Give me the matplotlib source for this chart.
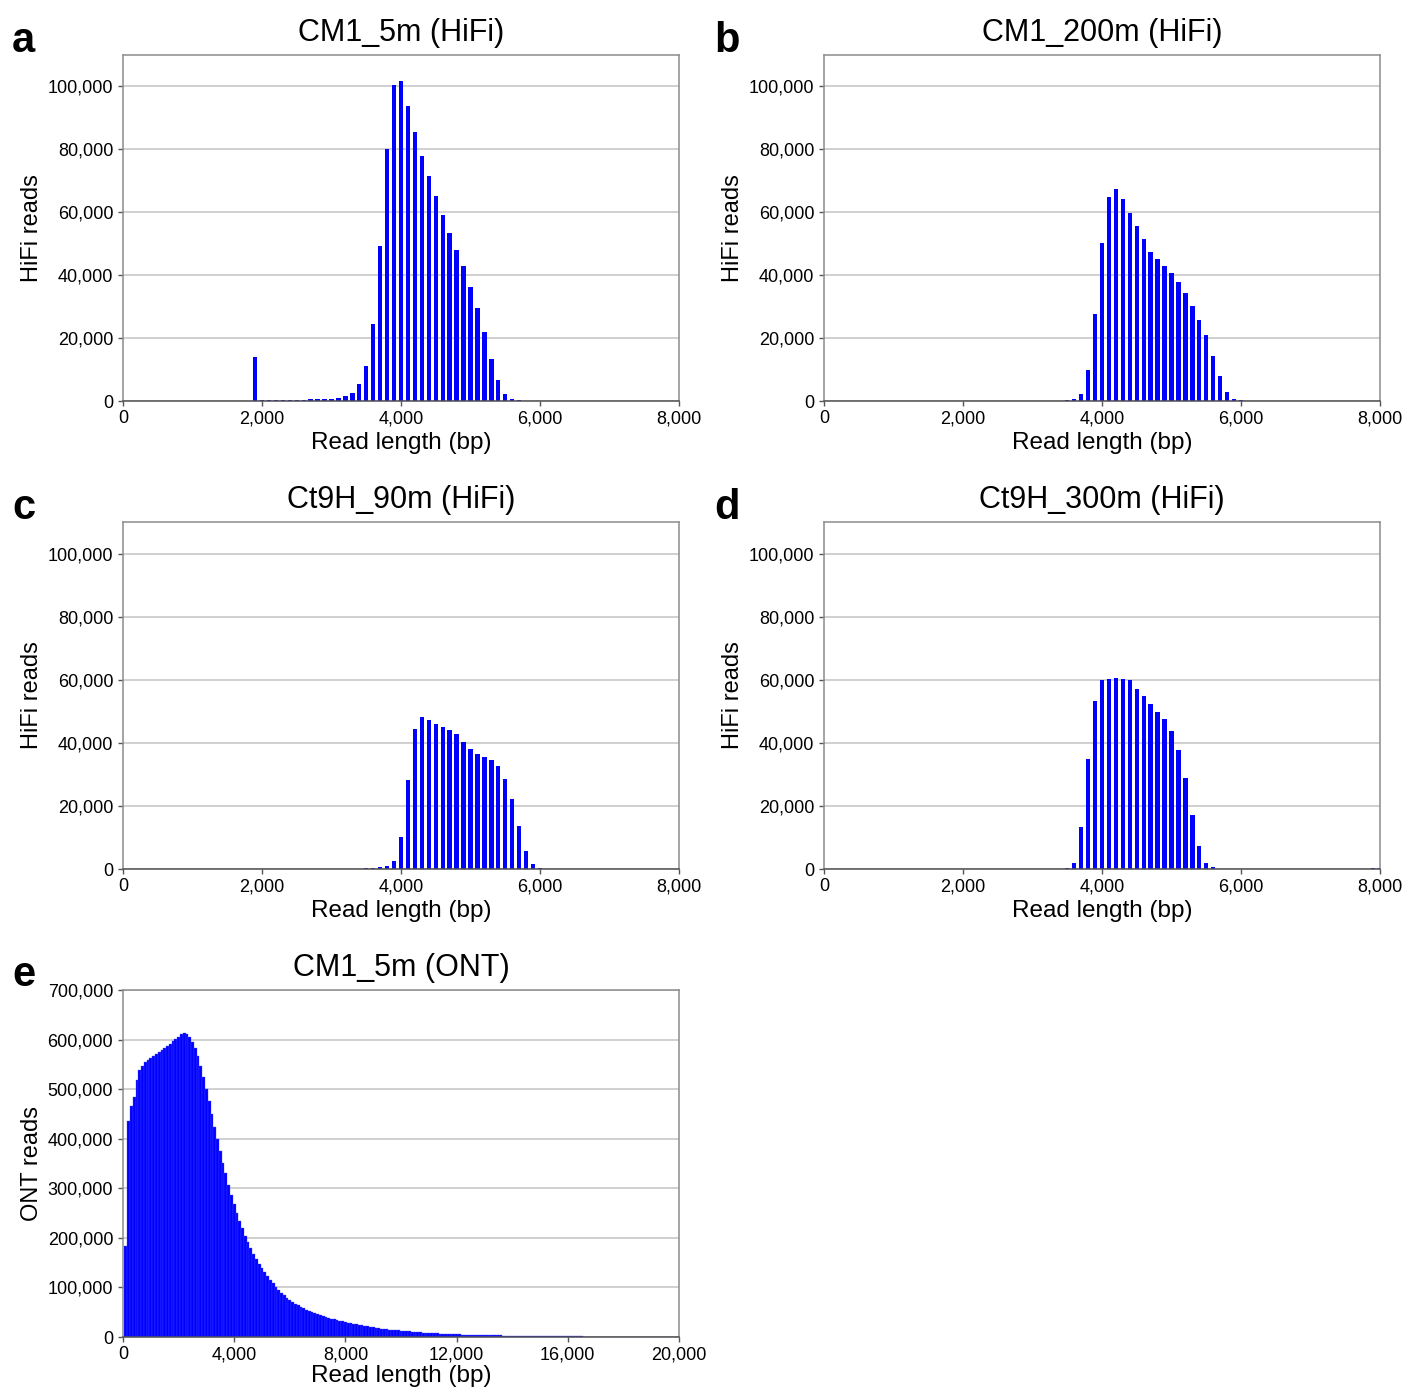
"""
Read-length distributions for the CM1 and Ct9H metagenome libraries.

Panels a-d: PacBio HiFi reads (100 bp bins), panel e: ONT reads (100 bp bins).
"""

import numpy as np
import matplotlib.pyplot as plt
from matplotlib.ticker import FuncFormatter, MultipleLocator

plt.rcParams["font.family"] = ["Liberation Sans", "DejaVu Sans"]

# HiFi bins: 0 .. 8,000 bp, 100 bp steps
hifi_bins = np.arange(0, 8001, 100)

cm1_5m_hifi = [
    0, 0, 0, 0, 0, 0,
    60, 0, 0, 50, 50, 50, 50, 50, 50, 50, 60, 60, 70,
    13900,
    300, 300, 320, 350, 380, 420, 470, 530, 630, 740,
    700, 1100, 1600, 2600, 5300, 11200, 24400, 49300, 80200, 100500,
    101800, 93800, 85400, 78000, 71400, 65100, 59100, 53300, 48100, 43000,
    36300, 29600, 21800, 13400, 6800, 2200, 500, 200, 150, 100,
    50, 50, 50, 50, 50, 50, 50, 50, 50, 50, 50,
    50, 50, 50, 50, 50, 50, 50, 50, 50, 50,
]

cm1_200m_hifi = [
    100, 100, 100, 0, 0, 0, 0, 100, 0, 0, 0, 0, 0, 0, 0,
    80, 80, 80, 80, 80, 80, 80, 80, 80, 80,
    80, 80, 80, 80, 80, 80, 80, 80, 80,
    150, 300, 500, 2200, 9700, 27700,
    50200, 64700, 67300, 64300, 59700, 55700, 51400, 47400, 45000, 43000,
    40700, 37700, 34200, 30200, 25800, 21000, 14300, 7800, 3000, 600,
    300, 150, 80,
    0, 0, 0, 0, 0, 0, 0, 0, 0, 0, 0, 0,
    80, 80, 80, 80, 80, 80,
]

ct9h_90m_hifi = [
    0, 0, 0, 0, 0, 0, 0, 0, 0, 0, 0, 0, 0, 0, 0, 0, 0, 0, 0, 0,
    0, 0, 0, 0,
    80, 80, 80, 80, 80, 80, 80, 80, 80, 80, 80,
    400, 400, 500, 950, 2400,
    10000, 28100, 44300, 48100, 47300, 46000, 45000, 44000, 42900, 40400,
    38000, 36600, 35600, 34600, 32600, 28600, 22300, 13500, 5700, 1700,
    400, 100,
    0, 0, 0, 0, 0, 0, 0, 0, 0, 0, 0, 0, 0, 0, 0, 0, 0, 0, 0,
]

ct9h_300m_hifi = [
    0, 0, 0, 0, 0, 0, 0, 0, 0, 0, 0, 0, 0, 0, 0,
    60, 60, 60, 60, 60, 60, 60, 60, 60, 60,
    60, 60, 60, 60, 60, 60, 60, 60, 60, 60,
    300, 1900, 13200, 34900, 53300,
    59800, 60100, 60700, 60300, 60000, 57000, 54700, 52300, 49800, 47500,
    43800, 37800, 28900, 17100, 7200, 2000, 500, 150, 60, 0,
    0, 0, 0, 0, 0, 0, 0, 0, 0, 0, 0, 0, 0, 0, 0,
    60, 60, 60, 100, 300, 300,
]

# ONT bins: 100 .. 20,000 bp, counts in thousands
ont_bins = np.arange(100, 20001, 100)

cm1_5m_ont_k = [
    184.4, 436, 466, 484, 519, 538, 547, 555, 559, 563,
    567, 571, 575, 579, 583, 587, 591, 597, 602, 606,
    611, 613, 612, 606, 596, 582, 566, 546, 524, 501,
    477, 450, 423, 399, 375.5, 352, 330, 307.5, 286.7, 268,
    251, 233, 219, 204, 191, 180, 167.6, 157.5, 148, 139.3,
    131, 122.5, 115, 108, 101.6, 95.6, 89.5, 84.1, 79.4,
    74.7, 71.0, 67.5, 64.2, 61.0, 58.0, 55.2, 52.5, 50.0, 48.0,
    46.0, 44.0, 42.0, 40.2, 38.5, 37.0, 35.5, 34.0, 32.8, 31.6,
    30.5, 29.2, 28.0, 26.8, 25.6, 24.5, 23.4, 22.4, 21.4, 20.4,
    19.5, 18.7, 17.9, 17.1, 16.4, 15.7, 15.0, 14.4, 13.8, 13.3,
    12.8, 12.2, 11.7, 11.2, 10.7, 10.2, 9.8, 9.3, 8.9, 8.5,
    8.1, 7.8, 7.4, 7.1, 6.8, 6.5, 6.2, 6.0, 5.8, 5.6,
    5.4, 5.2, 5.0, 4.85, 4.7, 4.55, 4.4, 4.25, 4.1, 4.0,
    3.9, 3.75, 3.6, 3.45, 3.3, 3.2, 3.1, 3.0, 2.9, 2.8,
    2.7, 2.6, 2.5, 2.4, 2.35, 2.3, 2.2, 2.15, 2.1, 2.05,
    2.0, 1.92, 1.85, 1.78, 1.7, 1.64, 1.56, 1.5, 1.42, 1.36,
    1.3, 1.25, 1.2, 1.15, 1.1, 1.05, 1.0, 0.96, 0.92, 0.88,
    0.84, 0.8, 0.77, 0.74, 0.71, 0.68, 0.65, 0.62, 0.6, 0.58,
    0.56, 0.54, 0.52, 0.5, 0.48, 0.46, 0.44, 0.42, 0.41, 0.4,
    0.39, 0.38, 0.37, 0.36, 0.35, 0.34, 0.33, 0.32, 0.31, 0.3, 0.3,
]

W, H = 1406, 1389


def px_rect(left, top, right, bottom):
    """Axes rectangle in figure fractions from pixel edges."""
    return [left / W, 1 - bottom / H, (right - left) / W, (bottom - top) / H]


def comma_fmt(v, pos):
    return f"{int(round(v)):,}"


def plot_length_hist(fig, rect, bins, counts, title, ylabel, letter, letter_xy,
                     xmax, xstep, ymax, ystep, bar_width, edge=None,
                     xlabelpad=3.5):
    ax = fig.add_axes(rect)
    ax.bar(bins, counts, width=bar_width, color="#0000ff",
           edgecolor=edge if edge else "none", linewidth=0.25 if edge else 0,
           zorder=2)

    ax.set_xlim(0, xmax)
    ax.set_ylim(0, ymax)
    ax.xaxis.set_major_locator(MultipleLocator(xstep))
    ax.yaxis.set_major_locator(MultipleLocator(ystep))
    ax.xaxis.set_major_formatter(FuncFormatter(comma_fmt))
    ax.yaxis.set_major_formatter(FuncFormatter(comma_fmt))

    ax.grid(axis="y", color="#c8c8c8", linewidth=1.2, zorder=0)
    ax.set_axisbelow(True)
    ax.tick_params(axis="both", labelsize=13, length=3.6, width=1,
                   color="#555555")
    ax.tick_params(axis="x", pad=3)

    for side in ("left", "top", "right"):
        ax.spines[side].set_color("#8c8c8c")
    ax.spines["bottom"].set_color("#505050")
    for sp in ax.spines.values():
        sp.set_linewidth(1.1)

    ax.set_title(title, fontsize=22, pad=10)
    ax.set_xlabel("Read length (bp)", fontsize=17.5, labelpad=xlabelpad)
    ax.set_ylabel(ylabel, fontsize=17, labelpad=3)

    fig.text(letter_xy[0] / W, 1 - letter_xy[1] / H, letter, fontsize=30,
             fontweight="bold", va="baseline", ha="left")
    return ax


fig = plt.figure(figsize=(W / 100, H / 100), dpi=100)

hifi_panels = [
    (cm1_5m_hifi, "CM1_5m (HiFi)", "a", (123, 55, 679, 401), (12, 52)),
    (cm1_200m_hifi, "CM1_200m (HiFi)", "b", (824, 55, 1380, 401), (714, 52)),
    (ct9h_90m_hifi, "Ct9H_90m (HiFi)", "c", (123, 522, 679, 869), (12, 519)),
    (ct9h_300m_hifi, "Ct9H_300m (HiFi)", "d", (824, 522, 1380, 869), (714, 519)),
]

for counts, title, letter, edges, letter_xy in hifi_panels:
    plot_length_hist(fig, px_rect(*edges), hifi_bins, counts, title,
                     "HiFi reads", letter, letter_xy,
                     xmax=8000, xstep=2000, ymax=110000, ystep=20000,
                     bar_width=62)

# ONT panel sits close to the bottom edge, so its x label is pulled up a bit
ont_counts = np.array(cm1_5m_ont_k) * 1000
plot_length_hist(fig, px_rect(123, 990, 679, 1337), ont_bins, ont_counts,
                 "CM1_5m (ONT)", "ONT reads", "e", (12, 986),
                 xmax=20000, xstep=4000, ymax=700000, ystep=100000,
                 bar_width=100, edge="#4646ff", xlabelpad=1.5)

plt.savefig("out.png", dpi=100)
plt.close()
